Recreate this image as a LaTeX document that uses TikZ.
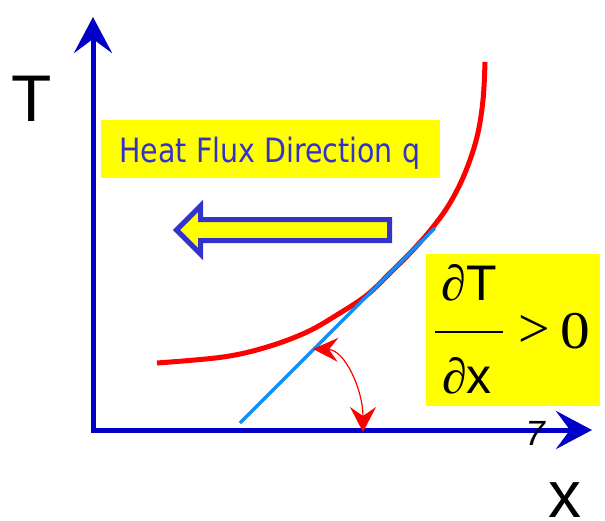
\documentclass[tikz,border=0pt]{standalone}
\usepackage{fontspec}
\usetikzlibrary{arrows.meta}
\newfontfamily\arialf{Liberation Sans}
\newfontfamily\dejavuf{DejaVu Sans}
\newfontfamily\tnrf{Liberation Serif}
\definecolor{axisblue}{RGB}{0,0,200}
\definecolor{textblue}{RGB}{51,51,204}
\definecolor{tanblue}{RGB}{20,140,240}
\definecolor{hlyellow}{RGB}{255,255,0}
\tikzset{
  axisline/.style={draw=axisblue, line width=5pt, -{Stealth[length=36pt,width=38pt,inset=14pt]}},
  lbl/.style={inner sep=0pt, outer sep=0pt},
}
\begin{document}
\begin{tikzpicture}[x=1pt,y=-1pt]
\useasboundingbox (0,0) rectangle (605,520);
% boxes
\fill[hlyellow] (101,120) rectangle (440,178);
\fill[hlyellow] (426,254) rectangle (600,406);
% axes
\coordinate (O) at (93,430);
\coordinate (Ob) at (93,432.5);
\coordinate (Ol) at (90.5,430);
\coordinate (ytip) at (93,17);
\coordinate (xtip) at (592,430);
\draw[axisline] (Ob) -- (ytip);
\draw[axisline] (Ol) -- (xtip);
% labels
\node[lbl, anchor=base west] (T) at (11.5,121) {\arialf\fontsize{66}{70}\selectfont T};
\node[lbl, anchor=base west] (X) at (548,517) {\arialf\fontsize{66}{70}\selectfont x};
\node[lbl, anchor=base] (seven) at (535,445) {\arialf\itshape\fontsize{35}{40}\selectfont 7};
\node[lbl, anchor=base west, text=textblue] (hf) at (119.5,162) {\scalebox{0.85}[1]{\dejavuf\fontsize{33.5}{40}\selectfont Heat Flux Direction q}};
% block arrow
\draw[draw=textblue, fill=hlyellow, line width=5pt, line join=miter]
  (176.5,230) -- (200.5,206) -- (200.5,219.5) -- (389.5,219.5) -- (389.5,240.5)
  -- (200.5,240.5) -- (200.5,254) -- cycle;
% red curve
\draw[red, line width=5pt] plot[smooth, tension=0.6] coordinates {
 (157,363) (223,357) (267,347) (307,332) (340,313) (367,295) (390,273)
 (413,250) (433,227) (450,203) (465,173) (477,137) (483,100) (485,62)};
% tangent line
\coordinate (ta) at (240,423);
\coordinate (tb) at (435,228);
\draw[tanblue, line width=3.5pt] (ta) -- (tb);
% angle arc
\coordinate (aa) at (313,349);
\coordinate (ab) at (363,432);
\draw[red, line width=1.2pt, {Stealth[length=25pt,width=24pt,inset=9pt]}-{Stealth[length=25pt,width=26pt,inset=9pt]}]
  (aa) .. controls (345,350) and (363,390) .. (ab);
% fraction
\node[lbl, anchor=base] (num) at (469,300) {\fontsize{50}{55}\selectfont{\tnrf\itshape ∂}{\arialf T}};
\node[lbl, anchor=base] (den) at (467,393) {\fontsize{50}{55}\selectfont{\tnrf\itshape ∂}{\arialf x}};
\draw[line width=2pt] (435,332) -- (503,332);
\node[lbl] (gt) at (534,331.5) {\tnrf\fontsize{56}{60}\selectfont >};
\node[lbl, anchor=base] (zero) at (575,348) {\scalebox{1.12}[1]{\tnrf\fontsize{53}{58}\selectfont 0}};
\end{tikzpicture}
\end{document}
